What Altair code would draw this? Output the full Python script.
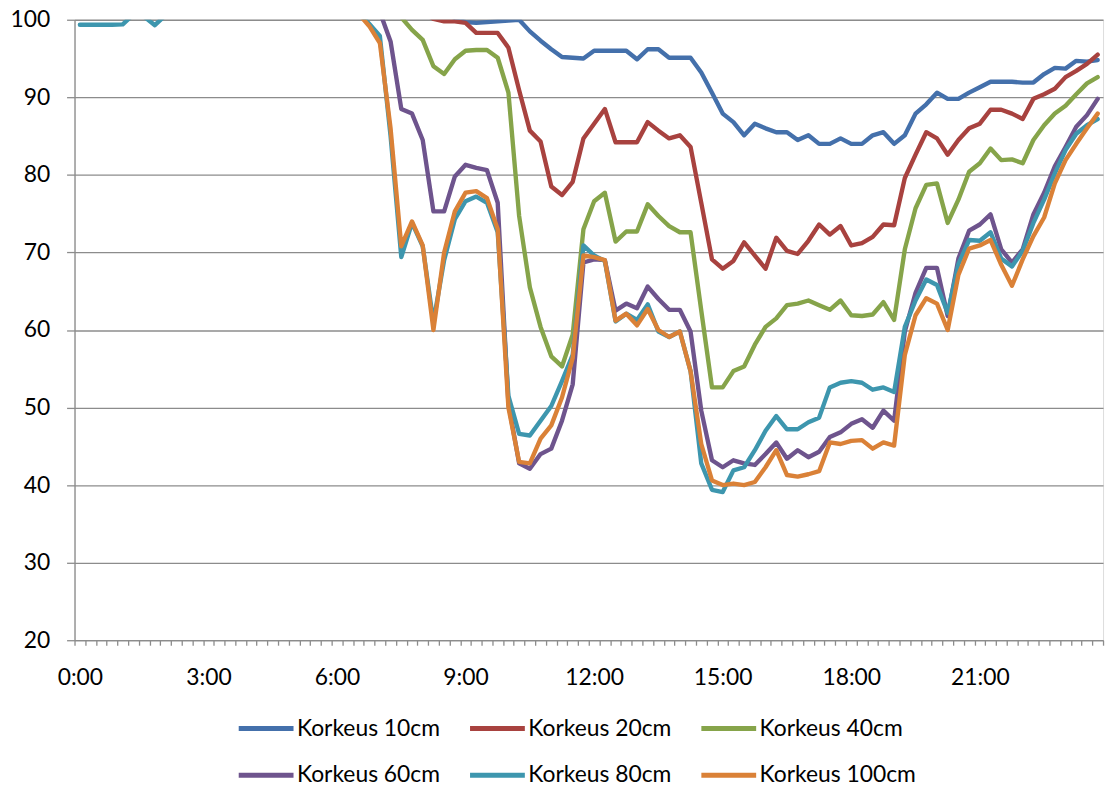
import altair as alt
import pandas as pd

# Values above the 100 % axis maximum (clipped out of view in the original chart)
ABOVE = 101.0

# 15-minute categories, 0:00 ... 23:45
times = [f"{h}:{m:02d}" for h in range(24) for m in (0, 15, 30, 45)]

series_names = ["Korkeus 10cm", "Korkeus 20cm", "Korkeus 40cm",
                "Korkeus 60cm", "Korkeus 80cm", "Korkeus 100cm"]
series_colors = ["#4470AB", "#A8423F", "#86A44A", "#6E548D", "#3D96AE", "#DA8137"]

k10 = [ABOVE] * 35 + [
    100.2, 99.7, 99.6, 99.7, 99.8, 99.9, 100.0, 98.5, 97.3, 96.2,
    95.2, 95.1, 95.0, 96.0, 96.0, 96.0, 96.0, 94.9, 96.2, 96.2,
    95.1, 95.1, 95.1, 93.2, 90.6, 87.9, 86.8, 85.1, 86.6, 86.0,
    85.5, 85.5, 84.5, 85.1, 84.0, 84.0, 84.7, 84.0, 84.0, 85.1,
    85.5, 84.0, 85.1, 87.9, 89.1, 90.6, 89.8, 89.8, 90.6, 91.3,
    92.0, 92.0, 92.0, 91.9, 91.9, 93.0, 93.8, 93.7, 94.7, 94.6,
    94.8]

k20 = [ABOVE] * 33 + [
    100.1, 99.8, 99.8, 99.6, 98.3, 98.3, 98.3, 96.4, 90.9, 85.7,
    84.3, 78.5, 77.4, 79.1, 84.7, 86.6, 88.5, 84.2, 84.2, 84.2,
    86.8, 85.7, 84.7, 85.1, 83.6, 76.4, 69.1, 67.9, 68.9, 71.3,
    69.6, 67.9, 71.9, 70.2, 69.8, 71.5, 73.6, 72.3, 73.4, 70.9,
    71.2, 72.0, 73.6, 73.5, 79.6, 82.6, 85.5, 84.7, 82.6, 84.5,
    86.0, 86.6, 88.4, 88.4, 87.9, 87.2, 89.8, 90.4, 91.1, 92.6,
    93.4, 94.3, 95.5]

k40 = [ABOVE] * 30 + [
    100.3, 98.7, 97.4, 94.0, 93.0, 94.9, 96.0, 96.1, 96.1, 95.1,
    90.6, 74.7, 65.5, 60.4, 56.6, 55.3, 59.4, 73.0, 76.6, 77.7,
    71.4, 72.7, 72.7, 76.2, 74.7, 73.4, 72.6, 72.6, 62.5, 52.6,
    52.6, 54.7, 55.3, 58.1, 60.4, 61.5, 63.2, 63.4, 63.8, 63.2,
    62.6, 63.8, 61.9, 61.8, 62.0, 63.6, 61.3, 70.4, 75.7, 78.7,
    78.9, 73.8, 76.8, 80.4, 81.5, 83.4, 81.9, 82.0, 81.5, 84.5,
    86.4, 87.9, 88.9, 90.4, 91.8, 92.6]

k60 = [ABOVE] * 29 + [
    97.2, 88.5, 87.9, 84.5, 75.3, 75.3, 79.8, 81.3, 80.9, 80.6,
    76.4, 50.5, 42.8, 42.1, 44.0, 44.7, 48.3, 53.0, 68.7, 69.1,
    69.0, 62.5, 63.4, 62.8, 65.6, 64.0, 62.6, 62.6, 59.8, 49.6,
    43.2, 42.3, 43.2, 42.8, 42.6, 44.0, 45.5, 43.4, 44.5, 43.6,
    44.3, 46.2, 46.8, 47.9, 48.5, 47.4, 49.6, 48.3, 59.8, 64.8,
    68.0, 68.0, 61.8, 69.2, 72.8, 73.6, 74.9, 70.4, 68.7, 70.4,
    74.9, 77.7, 81.1, 83.6, 86.2, 87.7, 89.8]

k80 = [99.35, 99.35, 99.35, 99.35, 99.4, 100.7, 100.4, 99.3, 100.6] + [ABOVE] * 18 + [
    99.5, 97.9, 85.0, 69.4, 73.8, 70.8, 61.0, 69.0, 74.3, 76.6,
    77.2, 76.4, 72.6, 51.5, 46.6, 46.4, 48.3, 50.2, 53.4, 56.8,
    70.9, 69.6, 68.9, 61.1, 62.1, 61.3, 63.3, 59.8, 59.1, 59.8,
    54.7, 42.8, 39.4, 39.1, 41.9, 42.3, 44.5, 47.0, 48.9, 47.2,
    47.2, 48.1, 48.7, 52.6, 53.2, 53.4, 53.2, 52.3, 52.6, 52.0,
    60.4, 63.8, 66.5, 65.8, 62.2, 68.5, 71.6, 71.5, 72.6, 69.2,
    68.2, 70.2, 73.8, 76.8, 80.2, 83.2, 85.3, 86.4, 87.2]

k100 = [ABOVE] * 26 + [
    100.8, 99.2, 97.0, 86.0, 70.8, 74.0, 70.9, 60.0, 70.0, 75.3,
    77.7, 77.9, 77.0, 73.0, 50.0, 43.0, 42.8, 46.0, 47.7, 51.3,
    56.4, 69.6, 69.4, 69.0, 61.2, 62.1, 60.6, 62.7, 60.0, 59.1,
    59.8, 54.7, 45.3, 40.6, 40.0, 40.2, 40.0, 40.4, 42.3, 44.5,
    41.3, 41.1, 41.4, 41.8, 45.5, 45.3, 45.7, 45.8, 44.7, 45.5,
    45.1, 56.8, 61.9, 64.1, 63.4, 60.0, 67.1, 70.5, 70.9, 71.6,
    68.4, 65.7, 69.1, 72.1, 74.5, 78.9, 81.9, 84.0, 86.0, 87.9]

y_ticks = [20, 30, 40, 50, 60, 70, 80, 90, 100]

rows = []
for name, vals in zip(series_names, [k10, k20, k40, k60, k80, k100]):
    for i, (t, v) in enumerate(zip(times, vals)):
        rows.append({"idx": i, "time": t, "series": name, "value": v})
df = pd.DataFrame(rows)

# tick marks sit between categories
x_tick_values = [i - 0.5 for i in range(len(times) + 1)]

GRID = "#8c8c8c"
FONT = "Lato"

chart = (
    alt.Chart(df)
    .mark_line(clip=True, strokeWidth=4.4, strokeCap="round", strokeJoin="round")
    .encode(
        x=alt.X(
            "idx:Q",
            scale=alt.Scale(domain=[-0.5, 95.5], nice=False, zero=False),
            axis=alt.Axis(
                values=x_tick_values,
                title=None,
                grid=False,
                tickSize=5,
                tickColor=GRID,
                tickWidth=1.3,
                domainColor=GRID,
                domainWidth=1.3,
                labelExpr="((datum.value + 0.5) % 12 == 0 && datum.value < 95) ? format((datum.value + 0.5) / 4, 'd') + ':00' : ''",
                labelOffset=5.4,
                labelPadding=22,
                labelFont=FONT,
                labelFontSize=23,
                labelColor="#000000",
                labelOverlap=False,
                labelBound=False,
                labelFlush=False,
            ),
        ),
        y=alt.Y(
            "value:Q",
            scale=alt.Scale(domain=[20, 100], nice=False, zero=False),
            axis=alt.Axis(
                values=y_ticks,
                title=None,
                grid=True,
                gridColor=GRID,
                gridWidth=1.3,
                tickSize=8,
                tickColor=GRID,
                tickWidth=1.3,
                domainColor=GRID,
                domainWidth=1.3,
                labelPadding=17,
                labelFont=FONT,
                labelFontSize=23,
                labelColor="#000000",
                labelOverlap=False,
                labelBound=False,
                labelFlush=False,
            ),
        ),
        color=alt.Color(
            "series:N",
            scale=alt.Scale(domain=series_names, range=series_colors),
            legend=alt.Legend(
                title=None,
                orient="none",
                legendX=179,
                legendY=700,
                direction="horizontal",
                columns=3,
                symbolType="M-2.4,0L2.4,0",
                symbolSize=529,
                symbolStrokeWidth=5,
                labelFont=FONT,
                labelFontSize=23,
                labelColor="#000000",
                labelOffset=17,
                columnPadding=19,
                rowPadding=21,
                padding=0,
            ),
        ),
    )
    .properties(
        width=1036,
        height=625,
        padding={"left": 67, "top": 9, "right": 5, "bottom": 144},
        autosize=alt.AutoSizeParams(type="none"),
    )
    .configure_view(stroke=None)
    .configure(background="white")
)

chart.save("out.html", embed_options={"renderer": "svg", "actions": False})
